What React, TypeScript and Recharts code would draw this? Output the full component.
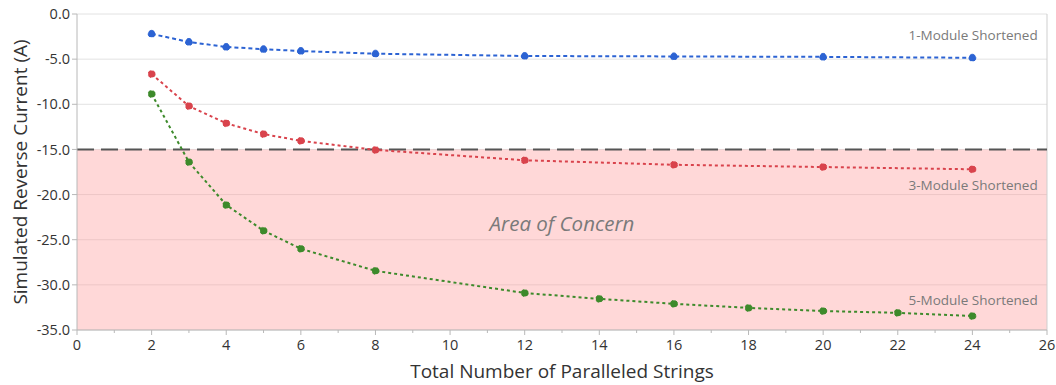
import React from 'react';
import { LineChart, Line, XAxis, YAxis, CartesianGrid, ReferenceArea, ReferenceLine, ReferenceDot } from 'recharts';

const strings1 = [2, 3, 4, 5, 6, 8, 12, 16, 20, 24];
const current1 = [-2.2, -3.1, -3.65, -3.9, -4.1, -4.4, -4.65, -4.7, -4.75, -4.85];

const strings3 = [2, 3, 4, 5, 6, 8, 12, 16, 20, 24];
const current3 = [-6.65, -10.2, -12.1, -13.3, -14.05, -15.05, -16.2, -16.7, -16.95, -17.2];

const strings5 = [2, 3, 4, 5, 6, 8, 12, 14, 16, 18, 20, 22, 24];
const current5 = [-8.85, -16.4, -21.15, -24.0, -26.0, -28.45, -30.9, -31.55, -32.1, -32.55, -32.9, -33.1, -33.45];

const xTicks = [0, 1, 2, 3, 4, 5, 6, 7, 8, 9, 10, 11, 12, 13, 14, 15, 16, 17, 18, 19, 20, 21, 22, 23, 24, 25, 26];
const yTicks = [0, -5, -10, -15, -20, -25, -30, -35];
const concernLimit = -15;

const FONT = '"Open Sans", "Noto Sans", sans-serif';
const AXIS = '#b8b8b8';
const INK = '#333333';

const toPoints = (xs: number[], ys: number[]) => xs.map((x, i) => ({ x, y: ys[i] }));

const XTick = (props: any) => {
  const { x, y, payload } = props;
  const major = payload.value % 2 === 0;
  return (
    <g>
      <line x1={x} x2={x} y1={y} y2={y + (major ? 5 : 3)} stroke={AXIS} />
      {major && (
        <text x={x} y={y + 20} textAnchor="middle" fill={INK} fontSize={14.5} fontFamily={FONT}>
          {payload.value}
        </text>
      )}
    </g>
  );
};

const tag = (text: string) => ({
  value: text,
  position: 'left' as const,
  offset: 0,
  fill: '#7a7a7a',
  fontSize: 13.5,
  fontFamily: FONT,
});

export default function App() {
  return (
    <div style={{ position: 'absolute', left: 0, top: 0, background: '#fff' }}>
      <LineChart width={1056} height={385} margin={{ top: 14, right: 9, bottom: 0, left: 0 }}>
        <CartesianGrid vertical={false} stroke="#e2e2e2" />
        <XAxis
          type="number"
          dataKey="x"
          domain={[0, 26]}
          ticks={xTicks}
          interval={0}
          tick={<XTick />}
          tickLine={false}
          tickSize={0}
          tickMargin={0}
          stroke={AXIS}
          height={55}
          label={{ value: 'Total Number of Paralleled Strings', position: 'insideBottom', offset: 7, fill: INK, fontSize: 19, fontFamily: FONT }}
        />
        <YAxis
          type="number"
          domain={[-35, 0]}
          ticks={yTicks}
          interval={0}
          width={77}
          stroke={AXIS}
          tickSize={5}
          tick={{ fill: INK, fontSize: 14.5, fontFamily: FONT }}
          tickFormatter={(v: number) => v.toFixed(1)}
          label={{ value: 'Simulated Reverse Current (A)', angle: -90, position: 'insideLeft', offset: 20, style: { textAnchor: 'middle' }, fill: INK, fontSize: 19, fontFamily: FONT }}
        />
        <ReferenceArea y1={concernLimit} y2={-35} fill="#ff9e9e" fillOpacity={0.4} stroke="none" />
        <ReferenceLine x={26} stroke="#cfcfcf" />
        <ReferenceLine y={concernLimit} stroke="#555555" strokeWidth={2} strokeDasharray="17 7" />
        <ReferenceDot x={13} y={-23.25} r={0} stroke="none" fill="none"
          label={{ value: 'Area of Concern', position: 'center', fill: '#7a7a7a', fontSize: 20.5, fontStyle: 'italic', fontFamily: FONT }} />
        <ReferenceDot x={25.75} y={-2.4} r={0} stroke="none" fill="none" label={tag('1-Module Shortened')} />
        <ReferenceDot x={25.75} y={-19.0} r={0} stroke="none" fill="none" label={tag('3-Module Shortened')} />
        <ReferenceDot x={25.75} y={-31.7} r={0} stroke="none" fill="none" label={tag('5-Module Shortened')} />
        <Line data={toPoints(strings1, current1)} dataKey="y" stroke="#2c63d3" strokeWidth={2} strokeDasharray="4 3"
          dot={{ r: 3.5, fill: '#2c63d3', stroke: '#2c63d3', strokeWidth: 1 }} isAnimationActive={false} />
        <Line data={toPoints(strings3, current3)} dataKey="y" stroke="#d9434c" strokeWidth={2} strokeDasharray="3 3"
          dot={{ r: 3.5, fill: '#d9434c', stroke: '#d9434c', strokeWidth: 1 }} isAnimationActive={false} />
        <Line data={toPoints(strings5, current5)} dataKey="y" stroke="#3d8a2b" strokeWidth={2} strokeDasharray="3 3"
          dot={{ r: 3.5, fill: '#3d8a2b', stroke: '#3d8a2b', strokeWidth: 1 }} isAnimationActive={false} />
      </LineChart>
    </div>
  );
}
